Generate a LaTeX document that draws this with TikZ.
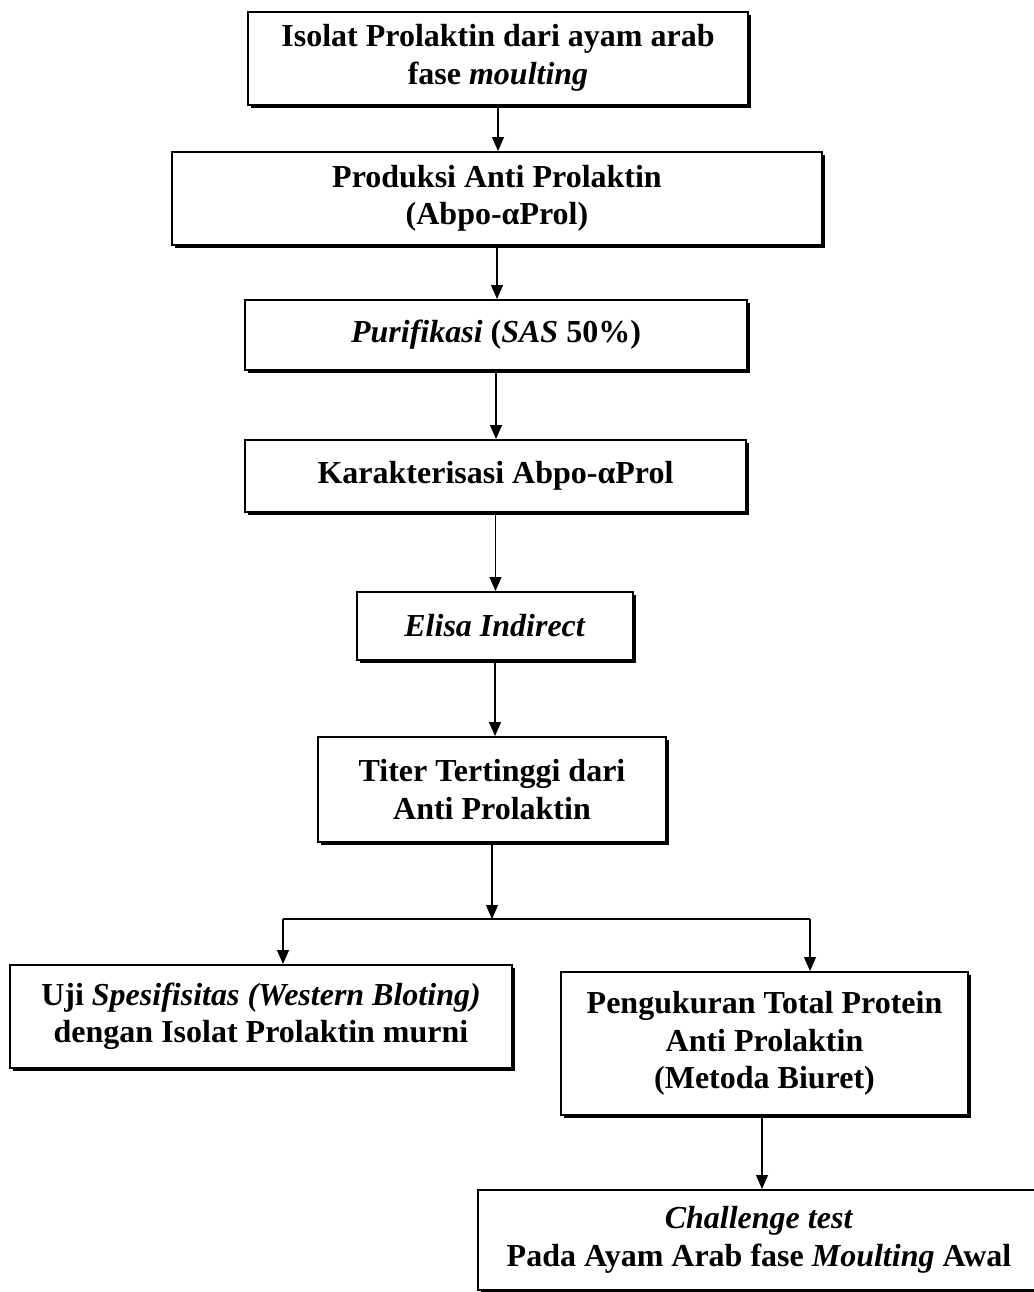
\documentclass[tikz,border=0pt]{standalone}
\usepackage{fontspec}
\setmainfont{Liberation Serif}
\usetikzlibrary{arrows.meta, shadows}

\begin{document}
\begin{tikzpicture}[x=0.5pt, y=-0.5pt,
    stepbox/.style={rectangle, draw, line width=1pt, fill=white, align=center,
        font=\bfseries\fontsize{16}{18.75}\selectfont, inner sep=0pt,
        drop shadow={shadow xshift=1.6pt, shadow yshift=-1.6pt, fill=black, opacity=1}},
    flow/.style={line width=0.6pt, -{Triangle[width=6pt, length=7pt]}}]
    \useasboundingbox (0,0) rectangle (1034,1292);

    % Main chain
    \node[stepbox, minimum width=250pt, minimum height=46.5pt] (isolat) at (498,58) {Isolat Prolaktin dari ayam arab\\fase \textit{moulting}};

    \node[stepbox, minimum width=325pt, minimum height=46.5pt] (produksi) at (497,198.5) {Produksi Anti Prolaktin\\(Abpo-αProl)};

    \node[stepbox, minimum width=251pt, minimum height=35pt] (purifikasi) at (496,335) {\textit{Purifikasi} (\textit{SAS} 50\%)};

    \node[stepbox, minimum width=250.5pt, minimum height=36pt] (karakter) at (495.5,476) {Karakterisasi Abpo-αProl};

    \node[stepbox, minimum width=138pt, minimum height=34pt] (elisa) at (495,626) {\textit{Elisa Indirect}};

    \node[stepbox, minimum width=174pt, minimum height=52.5pt] (titer) at (492,789.5) {Titer Tertinggi dari\\Anti Prolaktin};

    % Two branches
    \node[stepbox, minimum width=251pt, minimum height=51.5pt] (uji) at (261,1016.5) {Uji \textit{Spesifisitas (Western Bloting)}\\dengan Isolat Prolaktin murni};

    \node[stepbox, minimum width=203.5pt, minimum height=71.5pt] (ukur) at (764.5,1043.5) {Pengukuran Total Protein\\Anti Prolaktin\\(Metoda Biuret)};

    \node[stepbox, minimum width=281pt, minimum height=50pt] (challenge) at (759,1240) {\textit{Challenge test}\\Pada Ayam Arab fase \textit{Moulting} Awal};

    % Connecting arrows
    \draw[flow] (isolat.south) -- (isolat.south |- produksi.north);
    \draw[flow] (produksi.south) -- (produksi.south |- purifikasi.north);
    \draw[flow] (purifikasi.south) -- (purifikasi.south |- karakter.north);
    \draw[flow] (karakter.south) -- (karakter.south |- elisa.north);
    \draw[flow] (elisa.south) -- (elisa.south |- titer.north);

    \coordinate (split) at (492,919);
    \coordinate (splitL) at (283,919);
    \coordinate (splitR) at (810,919);
    \draw[flow] (titer.south) -- (split);
    \draw[line width=0.6pt] (splitL) -- (splitR);
    \draw[flow] (splitL) -- (splitL |- uji.north);
    \draw[flow] (splitR) -- (splitR |- ukur.north);

    \coordinate (ukurOut) at (762,1115);
    \draw[flow] (ukurOut) -- (ukurOut |- challenge.north);

\end{tikzpicture}
\end{document}
